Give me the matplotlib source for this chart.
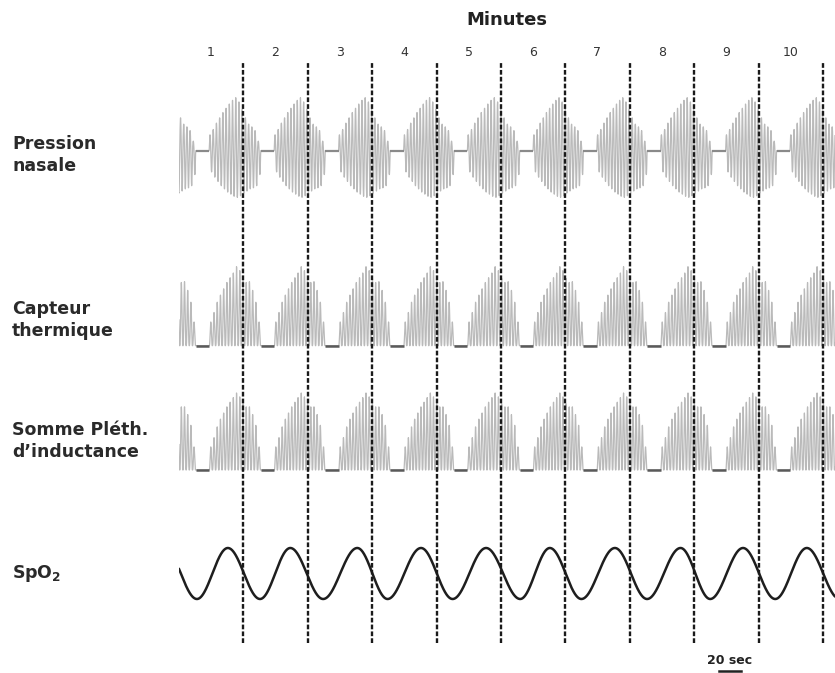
import numpy as np
import matplotlib
matplotlib.use("Agg")
import matplotlib.pyplot as plt
from matplotlib.transforms import blended_transform_factory

W, H = 835, 673

# ---------------- data ----------------
minutes = [1, 2, 3, 4, 5, 6, 7, 8, 9, 10]
minute_labels = ["1", "2", "3", "4", "5", "6", "7", "8", "9", "10"]
# onset time (minutes) of each apnoea (flat segment)
apnea_onsets = [-0.74, 0.26, 1.27, 2.27, 3.28, 4.27, 5.29, 6.28, 7.27, 8.28, 9.28, 10.28]
apnea_duration = 0.21
# relative breath amplitudes across one crescendo-decrescendo cycle
nasal_up = [0.30, 0.40, 0.52, 0.62, 0.72, 0.80, 0.88, 0.95, 1.00, 0.92, 0.78, 0.62, 0.50, 0.45, 0.38, 0.18]
nasal_down = [0.40, 0.50, 0.58, 0.66, 0.72, 0.78, 0.82, 0.86, 0.88, 0.85, 0.80, 0.76, 0.72, 0.70, 0.66, 0.45]
thermal_peaks = [0.30, 0.42, 0.55, 0.64, 0.72, 0.80, 0.86, 0.92, 1.00, 0.95, 0.85, 0.80, 0.81, 0.70, 0.55, 0.30]
pleth_peaks = [0.30, 0.42, 0.56, 0.66, 0.74, 0.82, 0.88, 0.94, 1.00, 0.95, 0.86, 0.82, 0.82, 0.72, 0.58, 0.30]
# SpO2 extrema (time in minutes, relative level)
spo2_max_t = [-0.22, 0.76, 1.73, 2.77, 3.76, 4.77, 5.76, 6.77, 7.79, 8.76, 9.75]
spo2_max_level = [1.0, 1.0, 1.0, 1.0, 1.0, 1.0, 1.0, 1.0, 1.0, 1.0, 1.0]
spo2_min_t = [0.28, 1.26, 2.24, 3.24, 4.25, 5.30, 6.25, 7.27, 8.25, 9.26, 10.26]
spo2_min_level = [0.0, 0.0, 0.0, 0.0, 0.0, 0.0, 0.0, 0.0, 0.0, 0.0, 0.0]
scale_bar_min = 20 / 60.0  # 20 sec

# ---------------- layout helpers ----------------
x0_px = 178.9
px_per_min = 64.4
t_end = (W - x0_px) / px_per_min

fig = plt.figure(figsize=(W / 100, H / 100), dpi=100)
fig.patch.set_facecolor("white")


def add_axes(top_px, bottom_px):
    ax = fig.add_axes([x0_px / W, 1 - bottom_px / H, (W - x0_px) / W, (bottom_px - top_px) / H])
    ax.set_xlim(0, t_end)
    ax.axis("off")
    ax.patch.set_alpha(0)
    return ax


t = np.linspace(0, t_end, 40000)


def build(amps_up, amps_down=None):
    y = np.zeros_like(t)
    for i in range(len(apnea_onsets) - 1):
        b0 = apnea_onsets[i] + apnea_duration
        b1 = apnea_onsets[i + 1]
        n = len(amps_up)
        bd = (b1 - b0) / n
        m = (t >= b0) & (t < b1)
        u = (t[m] - b0) / bd
        idx = np.clip(np.floor(u).astype(int), 0, n - 1)
        p = u - idx
        up = np.array(amps_up)[idx]
        if amps_down is not None:
            s = np.sin(2 * np.pi * p)
            dn = np.array(amps_down)[idx]
            y[m] = np.where(s > 0, up * s, dn * s)
        else:
            y[m] = up * (0.5 - 0.5 * np.cos(2 * np.pi * p)) ** 1.6
    return y


def draw_apneas(ax, color, lw):
    for a in apnea_onsets:
        lo, hi = max(a, 0), min(a + apnea_duration, t_end)
        if hi > lo:
            ax.plot([lo, hi], [0, 0], color=color, lw=lw, solid_capstyle="butt")


trace_color = "#bababa"

# Nasal pressure: 0 at y=150.7 px, 1 unit = 53 px
ax_n = add_axes(150.7 - 1.2 * 53, 150.7 + 1.2 * 53)
ax_n.set_ylim(-1.2, 1.2)
ax_n.plot(t, build(nasal_up, nasal_down), color=trace_color, lw=0.9)
draw_apneas(ax_n, "#8a8a8a", 1.6)

# Thermal sensor: 0 at 345.7 px, 1 = 79 px
ax_t = add_axes(345.7 - 1.2 * 79, 345.7 + 0.2 * 79)
ax_t.set_ylim(-0.2, 1.2)
ax_t.plot(t, build(thermal_peaks), color=trace_color, lw=0.9)
draw_apneas(ax_t, "#5a5a5a", 1.8)

# Inductance plethysmography sum: 0 at 470 px, 1 = 77 px
ax_p = add_axes(470 - 1.2 * 77, 470 + 0.2 * 77)
ax_p.set_ylim(-0.2, 1.2)
ax_p.plot(t, build(pleth_peaks), color=trace_color, lw=0.9)
draw_apneas(ax_p, "#5a5a5a", 1.8)

# SpO2: 0 at 599 px, 1 at 548 px
ax_s = add_axes(599 - 1.2 * 51, 599 + 0.2 * 51)
ax_s.set_ylim(-0.2, 1.2)
ext_t = np.array(spo2_max_t + spo2_min_t)
ext_v = np.array(spo2_max_level + spo2_min_level)
order = np.argsort(ext_t)
ext_t, ext_v = ext_t[order], ext_v[order]
spo2 = np.zeros_like(t)
for i in range(len(ext_t) - 1):
    m = (t >= ext_t[i]) & (t <= ext_t[i + 1])
    s = (t[m] - ext_t[i]) / (ext_t[i + 1] - ext_t[i])
    spo2[m] = ext_v[i] + (ext_v[i + 1] - ext_v[i]) * (1 - np.cos(np.pi * s)) / 2
ax_s.plot(t, spo2, color="#1e1e1e", lw=1.8, solid_capstyle="round")

# Dashed minute lines
ax_l = add_axes(62, 643)
ax_l.set_ylim(0, 1)
for mnt in minutes:
    ax_l.axvline(mnt, color="#1a1a1a", lw=1.7, linestyle=(0, (2.0, 0.9)))

# Minute labels
trans = blended_transform_factory(ax_l.transData, fig.transFigure)
for mnt, lab in zip(minutes, minute_labels):
    ax_l.text(mnt - 0.5, 1 - 52 / H, lab, transform=trans, ha="center", va="center",
              fontsize=9, color="#333333", family="DejaVu Sans", clip_on=False)

fig.text(506.5 / W, 1 - 20 / H, "Minutes", ha="center", va="center", fontsize=13,
         fontweight="bold", color="#222222", family="DejaVu Sans")

# Row labels
lab_kw = dict(ha="left", va="center", fontsize=12.5, fontweight="bold", color="#2a2a2a",
              family="DejaVu Sans", linespacing=1.25)
fig.text(12 / W, 1 - 155 / H, "Pression\nnasale", **lab_kw)
fig.text(12 / W, 1 - 320 / H, "Capteur\nthermique", **lab_kw)
fig.text(12 / W, 1 - 441 / H, "Somme Pléth.\nd\u2019inductance", **lab_kw)
plt.rcParams["mathtext.fontset"] = "dejavusans"
fig.text(12 / W, 1 - 573 / H, r"SpO$_\mathbf{2}$", **lab_kw)

# 20 sec scale bar
fig.text(730 / W, 1 - 661 / H, "20 sec", ha="center", va="center", fontsize=9,
         fontweight="bold", color="#222222", family="DejaVu Sans")
ax_b = add_axes(664, 673)
ax_b.set_ylim(0, 1)
tc = (730 - x0_px) / px_per_min
ax_b.plot([tc - scale_bar_min / 2, tc + scale_bar_min / 2], [0.2, 0.2], color="#222222", lw=1.8)

fig.savefig("out.png", dpi=100, facecolor="white")
